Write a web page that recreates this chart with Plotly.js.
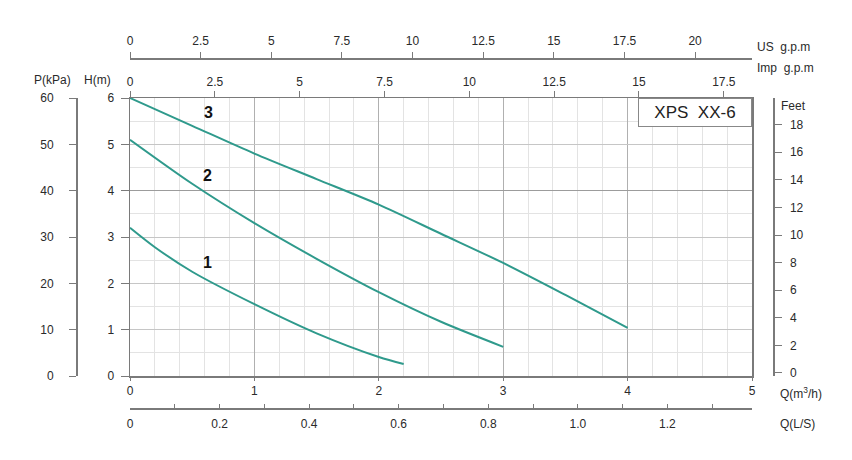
<!DOCTYPE html>
<html>
<head>
<meta charset="utf-8">
<script src="https://cdn.plot.ly/plotly-3.0.1.min.js"></script>
<style>html,body{margin:0;padding:0;background:#fff;}#chart{width:852px;height:460px;}</style>
</head>
<body>
<div id="chart"></div>
<script>
// Pump curves: flow Q (m³/h) vs head H (m)
const curve1Q = [0, 0.2, 0.5, 1.0, 1.5, 2.0, 2.2];
const curve1H = [3.2, 2.78, 2.25, 1.55, 0.92, 0.41, 0.26];
const curve2Q = [0, 0.5, 1.0, 1.5, 2.0, 2.5, 3.0];
const curve2H = [5.1, 4.15, 3.3, 2.53, 1.81, 1.17, 0.63];
const curve3Q = [0, 0.5, 1.0, 1.5, 2.0, 2.5, 3.0, 3.5, 4.0];
const curve3H = [6.0, 5.4, 4.8, 4.25, 3.7, 3.07, 2.44, 1.75, 1.04];
const curveNames = ['1', '2', '3'];
const modelLabel = 'XPS  XX-6';
const emphasisH = [4];
const lsTickVals = [0, 0.2, 0.4, 0.6, 0.8, 1.0, 1.2];
const lsTickText = ['0', '0.2', '0.4', '0.6', '0.8', '1.0', '1.2'];

const W = 852, H = 460;
const px = v => v / W;
const py = v => 1 - v / H;
const FONT = 'Liberation Sans, Arial, sans-serif';
const TEAL = '#2f9a8c';
const AX = '#7a7a7a';
const tf = {family: FONT, size: 12, color: '#2a2a2a'};

// unit conversions for the secondary scales
const M3H_TO_IMP = 1000 / 60 / 4.54609;
const M3H_TO_US = 1000 / 60 / 3.78541;
const M3H_TO_LS = 1 / 3.6;
const M_TO_KPA = 9.80665;
const M_TO_FT = 3.28084;
const qMax = 5;

const mk = (q, h, n) => ({x: q, y: h, name: n, type: 'scatter', mode: 'lines',
  line: {color: TEAL, width: 2, shape: 'spline', smoothing: 0.8}, hoverinfo: 'skip', showlegend: false});

// invisible companions so that every secondary scale is drawn (same data, converted units)
const ghost = (xs, ys, xa, ya) => ({x: xs, y: ys, xaxis: xa, yaxis: ya, type: 'scatter', mode: 'lines',
  line: {color: 'rgba(0,0,0,0)', width: 0}, hoverinfo: 'skip', showlegend: false});

const data = [
  mk(curve1Q, curve1H, curveNames[0]), mk(curve2Q, curve2H, curveNames[1]), mk(curve3Q, curve3H, curveNames[2]),
  ghost(curve3Q.map(q => q * M3H_TO_IMP), curve3H, 'x2', 'y2'),
  ghost(curve3Q.map(q => q * M3H_TO_US), curve3H.map(h => h * M_TO_KPA), 'x3', 'y3'),
  ghost(curve3Q.map(q => q * M3H_TO_LS), curve3H.map(h => h * M_TO_FT), 'x4', 'y4')
];

const ann = (text, x, y, xa, extra) => Object.assign({text, x: px(x), y: py(y), xref: 'paper', yref: 'paper',
  xanchor: xa || 'center', yanchor: 'middle', showarrow: false, font: {family: FONT, size: 12, color: '#2a2a2a'}}, extra || {});

const layout = {
  width: W, height: H,
  margin: {l: 0, r: 0, t: 0, b: 0},
  paper_bgcolor: '#fff', plot_bgcolor: '#fff',
  showlegend: false,
  xaxis: {domain: [px(130), px(752)], range: [0, qMax], dtick: 1, tick0: 0,
    ticks: 'outside', ticklen: 3, tickcolor: AX, showline: true, linecolor: AX, linewidth: 1.5, mirror: true,
    showgrid: true, gridcolor: '#b0b0b0', gridwidth: 1, zeroline: false,
    minor: {dtick: 0.2, tick0: 0, showgrid: true, gridcolor: '#e3e3e3', gridwidth: 1, ticks: ''},
    tickfont: tf, ticklabelstandoff: 0, fixedrange: true},
  yaxis: {domain: [1 - 376 / H, 1 - 98 / H], range: [0, 6], dtick: 1, tick0: 0,
    ticks: 'outside', ticklen: 8, tickcolor: AX, showline: true, linecolor: AX, linewidth: 1.5, mirror: true,
    showgrid: true, gridcolor: '#c6c6c6', gridwidth: 1, zeroline: false,
    minor: {dtick: 0.5, tick0: 0, showgrid: true, gridcolor: '#e3e3e3', gridwidth: 1, ticks: ''},
    tickfont: tf, ticklabelstandoff: 4, fixedrange: true},
  yaxis2: {overlaying: 'y', anchor: 'x2', side: 'left', range: [0, 6], tickmode: 'array', tickvals: emphasisH,
    showticklabels: false, ticks: '', showgrid: true, gridcolor: '#9c9c9c', gridwidth: 1.2,
    showline: false, zeroline: false, fixedrange: true},
  yaxis3: {overlaying: 'y', anchor: 'free', position: px(76), side: 'left', range: [0, 60], dtick: 10, tick0: 0,
    ticks: 'outside', ticklen: 7, tickcolor: AX, showline: true, linecolor: AX, linewidth: 1.5,
    showgrid: false, zeroline: false, tickfont: tf, ticklabelstandoff: 13, fixedrange: true},
  yaxis4: {overlaying: 'y', anchor: 'free', position: px(773), side: 'right', range: [-0.22, 19.93], dtick: 2, tick0: 0,
    ticks: 'outside', ticklen: 7, tickcolor: AX, showline: true, linecolor: AX, linewidth: 1.5,
    showgrid: false, zeroline: false, tickfont: tf, ticklabelstandoff: 6, fixedrange: true},
  xaxis2: {overlaying: 'x', anchor: 'y', side: 'top', range: [0, qMax * M3H_TO_IMP], dtick: 2.5, tick0: 0,
    ticks: 'outside', ticklen: 6, tickcolor: AX, showline: false,
    showgrid: false, zeroline: false, tickfont: tf, ticklabelstandoff: 0, fixedrange: true},
  xaxis3: {overlaying: 'x', anchor: 'free', position: 1 - 58 / H, side: 'top', range: [0, qMax * M3H_TO_US], dtick: 2.5, tick0: 0,
    ticks: 'outside', ticklen: 6, tickcolor: AX, showline: true, linecolor: AX, linewidth: 1.5,
    showgrid: false, zeroline: false, tickfont: tf, ticklabelstandoff: 2, fixedrange: true},
  xaxis4: {overlaying: 'x', anchor: 'free', position: 1 - 408 / H, side: 'bottom', range: [0, qMax * M3H_TO_LS],
    tickmode: 'array', tickvals: lsTickVals, ticktext: lsTickText,
    ticks: 'inside', ticklen: 4, tickcolor: AX, showline: true, linecolor: AX, linewidth: 1.5,
    minor: {dtick: 0.1, tick0: 0, ticks: 'inside', ticklen: 4, tickcolor: AX, showgrid: false},
    showgrid: false, zeroline: false, tickfont: tf, ticklabelstandoff: 4, fixedrange: true},
  annotations: [
    ann('P(kPa)', 52, 80),
    ann('H(m)', 97, 80),
    ann('US  g.p.m', 755, 47, 'left'),
    ann('Imp  g.p.m', 755, 68, 'left'),
    ann('Feet', 779, 106, 'left'),
    ann('Q(m<sup>3</sup>/h)', 778, 393, 'left'),
    ann('Q(L/S)', 778, 424, 'left'),
    {text: modelLabel, x: px(752), y: py(98), xref: 'paper', yref: 'paper', xanchor: 'right', yanchor: 'top',
      showarrow: false, font: {family: FONT, size: 17, color: '#222'}, bgcolor: '#fff',
      bordercolor: '#888', borderwidth: 1, borderpad: 1, width: 110, height: 25},
    {text: '<b>' + curveNames[2] + '</b>', x: 0.63, y: 5.68, xref: 'x', yref: 'y', showarrow: false,
      font: {family: FONT, size: 16, color: '#111'}},
    {text: '<b>' + curveNames[1] + '</b>', x: 0.62, y: 4.32, xref: 'x', yref: 'y', showarrow: false,
      font: {family: FONT, size: 16, color: '#111'}},
    {text: '<b>' + curveNames[0] + '</b>', x: 0.62, y: 2.44, xref: 'x', yref: 'y', showarrow: false,
      font: {family: FONT, size: 16, color: '#111'}}
  ]
};

Plotly.newPlot('chart', data, layout, {displayModeBar: false, staticPlot: true});
</script>
</body>
</html>
